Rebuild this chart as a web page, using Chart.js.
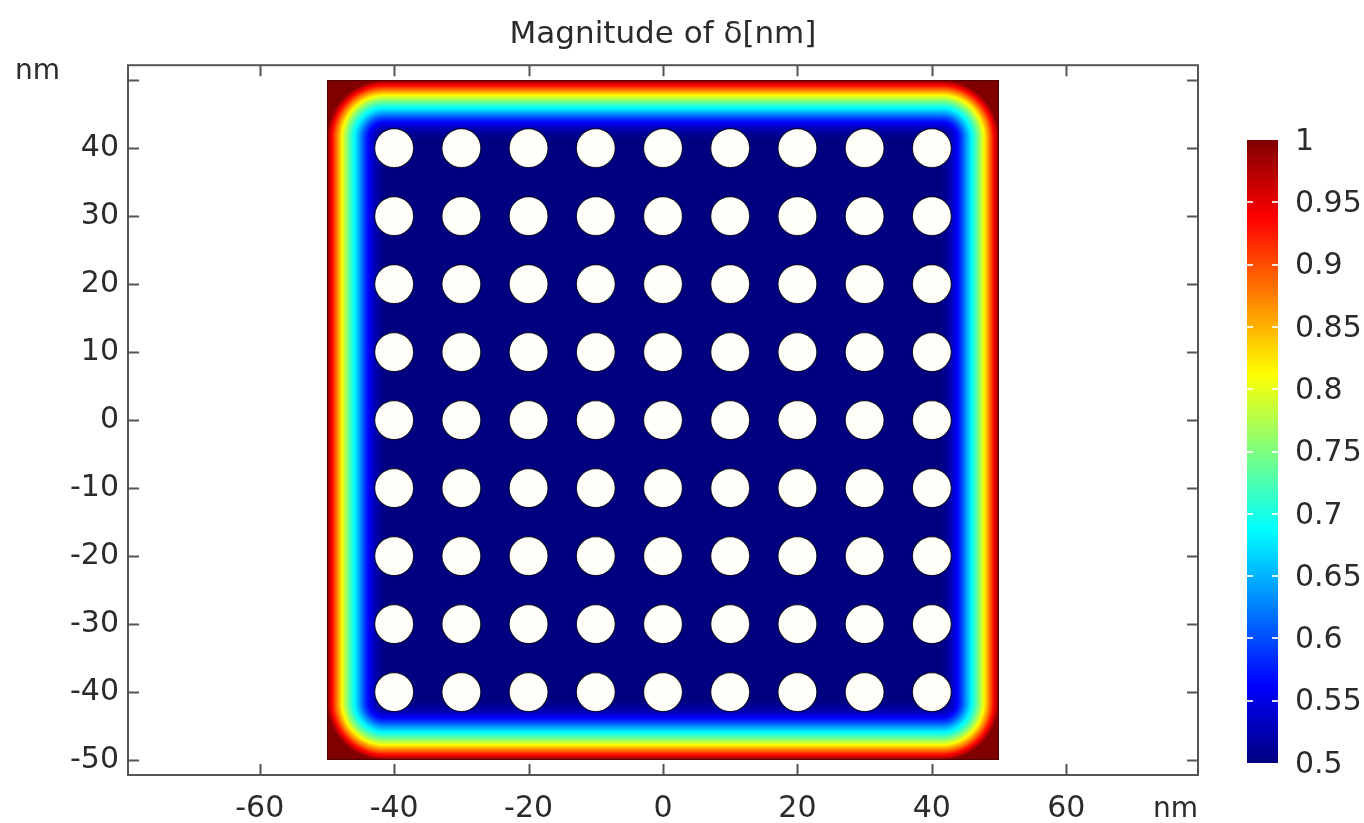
<!DOCTYPE html>
<html>
<head>
<meta charset="utf-8">
<script src="https://cdn.jsdelivr.net/npm/chart.js@4/dist/chart.umd.min.js"></script>
<style>
  body { margin: 0; background: #fff; }
  #chart { display: block; }
</style>
</head>
<body>
<canvas id="chart" width="1364" height="823"></canvas>
<script>
// Datos (nm)
const xRange = [-79.6, 79.6];
const yRange = [-52.2, 52.2];
const xTicks = [-60, -40, -20, 0, 20, 40, 60];
const yTicks = [-50, -40, -30, -20, -10, 0, 10, 20, 30, 40, 50];
const domain = [-50, 50];              // lado del cuadrado
const cornerRadius = 8.5;              // redondeo de las isolíneas en las esquinas
const holeX = [-40, -30, -20, -10, 0, 10, 20, 30, 40];
const holeY = [-40, -30, -20, -10, 0, 10, 20, 30, 40];
const holeRadius = 2.9;
// perfil del borde: distancia al borde (nm) -> magnitud
const edgeDist = [0, 0.6, 1.2, 1.8, 2.4, 3.0, 3.6, 4.2, 4.8, 5.4, 6.0, 6.6, 7.2, 8.0, 9.0];
const edgeValue = [1.0, 0.95, 0.9, 0.85, 0.80, 0.755, 0.715, 0.68, 0.645, 0.605, 0.572, 0.545, 0.525, 0.508, 0.5];
const cbarTicks = [0.5, 0.55, 0.6, 0.65, 0.7, 0.75, 0.8, 0.85, 0.9, 0.95, 1];
const cbarLabels = ['0.5', '0.55', '0.6', '0.65', '0.7', '0.75', '0.8', '0.85', '0.9', '0.95', '1'];
const cbarMin = 0.5, cbarMax = 1;

const FONT = 'DejaVu Sans';
const TEXT = '#2b2b2b';

// mapa de colores jet
const jetStops = [
  [0, [0, 0, 128]], [0.125, [0, 0, 255]], [0.375, [0, 255, 255]],
  [0.625, [255, 255, 0]], [0.875, [255, 0, 0]], [1, [128, 0, 0]]
];
function jet(t) {
  t = Math.max(0, Math.min(1, t));
  for (let i = 1; i < jetStops.length; i++) {
    if (t <= jetStops[i][0]) {
      const [t0, c0] = jetStops[i - 1], [t1, c1] = jetStops[i];
      const f = (t - t0) / (t1 - t0);
      return c0.map((c, k) => c + (c1[k] - c) * f);
    }
  }
  return jetStops[jetStops.length - 1][1];
}

function profile(d) {
  if (d <= edgeDist[0]) return edgeValue[0];
  for (let i = 1; i < edgeDist.length; i++) {
    if (d <= edgeDist[i]) {
      const f = (d - edgeDist[i - 1]) / (edgeDist[i] - edgeDist[i - 1]);
      return edgeValue[i - 1] + (edgeValue[i] - edgeValue[i - 1]) * f;
    }
  }
  return edgeValue[edgeValue.length - 1];
}
const norm = v => (v - cbarMin) / (cbarMax - cbarMin);

// distancia al borde con esquinas redondeadas
function edgeDistance(dx, dy) {
  const R = cornerRadius;
  if (dx < R && dy < R) return Math.max(0, R - Math.hypot(R - dx, R - dy));
  return Math.min(dx, dy);
}

const holes = [];
holeY.forEach(y => holeX.forEach(x => holes.push({ x, y })));

// Campo de superficie dibujado con las escalas del gráfico
const fieldPlugin = {
  id: 'field',
  beforeDatasetsDraw(chart) {
    const xs = chart.scales.x, ys = chart.scales.y;
    const l = Math.round(xs.getPixelForValue(domain[0]));
    const r = Math.round(xs.getPixelForValue(domain[1]));
    const t = Math.round(ys.getPixelForValue(domain[1]));
    const b = Math.round(ys.getPixelForValue(domain[0]));
    const w = r - l, h = b - t;
    const off = document.createElement('canvas');
    off.width = w; off.height = h;
    const octx = off.getContext('2d');
    const img = octx.createImageData(w, h);
    for (let j = 0; j < h; j++) {
      const yv = ys.getValueForPixel(t + j + 0.5);
      const dy = Math.min(yv - domain[0], domain[1] - yv);
      for (let i = 0; i < w; i++) {
        const xv = xs.getValueForPixel(l + i + 0.5);
        const dx = Math.min(xv - domain[0], domain[1] - xv);
        const c = jet(norm(profile(edgeDistance(dx, dy))));
        const k = (j * w + i) * 4;
        img.data[k] = c[0]; img.data[k + 1] = c[1]; img.data[k + 2] = c[2]; img.data[k + 3] = 255;
      }
    }
    octx.putImageData(img, 0, 0);
    const ctx = chart.ctx;
    ctx.save();
    ctx.drawImage(off, l, t);
    ctx.strokeStyle = 'rgba(70,0,0,0.8)';
    ctx.lineWidth = 1;
    ctx.strokeRect(l + 0.5, t + 0.5, w - 1, h - 1);
    ctx.restore();
  }
};

// Marco con marcas hacia dentro, unidades y barra de colores
const framePlugin = {
  id: 'frame',
  afterDraw(chart) {
    const ctx = chart.ctx;
    const a = chart.chartArea;
    const xs = chart.scales.x, ys = chart.scales.y;
    const tl = 11;
    ctx.save();
    ctx.strokeStyle = '#555';
    ctx.lineWidth = 2;
    ctx.strokeRect(a.left, a.top, a.right - a.left, a.bottom - a.top);
    ctx.beginPath();
    xs.ticks.forEach(tk => {
      const p = Math.round(xs.getPixelForValue(tk.value)) + 0.5;
      ctx.moveTo(p, a.bottom); ctx.lineTo(p, a.bottom - tl);
      ctx.moveTo(p, a.top); ctx.lineTo(p, a.top + tl);
    });
    ys.ticks.forEach(tk => {
      const p = Math.round(ys.getPixelForValue(tk.value)) + 0.5;
      ctx.moveTo(a.left, p); ctx.lineTo(a.left + tl, p);
      ctx.moveTo(a.right, p); ctx.lineTo(a.right - tl, p);
    });
    ctx.stroke();

    // unidades
    ctx.fillStyle = TEXT;
    ctx.font = '28px "' + FONT + '"';
    ctx.textBaseline = 'alphabetic';
    ctx.textAlign = 'left';
    ctx.fillText('nm', 15, 79);
    ctx.textAlign = 'right';
    ctx.fillText('nm', a.right, 817);

    // barra de colores
    const cbL = a.right + 49, cbW = 31, cbT = 140, cbB = 763;
    const cbY = v => cbB - (v - cbarMin) / (cbarMax - cbarMin) * (cbB - cbT);
    const grad = ctx.createLinearGradient(0, cbB, 0, cbT);
    jetStops.forEach(([s, c]) => grad.addColorStop(s, 'rgb(' + c.join(',') + ')'));
    ctx.fillStyle = grad;
    ctx.fillRect(cbL, cbT, cbW, cbB - cbT);
    ctx.strokeStyle = 'rgba(255,255,255,0.85)';
    ctx.lineWidth = 2;
    ctx.beginPath();
    cbarTicks.forEach(v => {
      if (v === cbarMin || v === cbarMax) return;
      const p = Math.round(cbY(v));
      ctx.moveTo(cbL, p); ctx.lineTo(cbL + 6, p);
      ctx.moveTo(cbL + cbW, p); ctx.lineTo(cbL + cbW - 6, p);
    });
    ctx.stroke();
    ctx.fillStyle = TEXT;
    ctx.font = '30px "' + FONT + '"';
    ctx.textAlign = 'left';
    ctx.textBaseline = 'middle';
    cbarTicks.forEach((v, i) => {
      ctx.fillText(cbarLabels[i], cbL + cbW + 17, cbY(v) + 2);
    });
    ctx.restore();
  }
};

new Chart(document.getElementById('chart'), {
  type: 'scatter',
  data: {
    datasets: [{
      data: holes,
      pointRadius: c => {
        const s = c.chart.scales.x;
        return Math.abs(s.getPixelForValue(holeRadius) - s.getPixelForValue(0));
      },
      pointBackgroundColor: '#fffef8',
      pointBorderColor: 'rgba(0,0,30,0.85)',
      pointBorderWidth: 1.2,
      pointHoverRadius: 0
    }]
  },
  options: {
    responsive: false,
    animation: false,
    devicePixelRatio: 1,
    events: [],
    layout: { padding: { left: 0, right: 166, top: 0, bottom: 0 } },
    plugins: {
      legend: { display: false },
      tooltip: { enabled: false },
      title: {
        display: true,
        text: 'Magnitude of δ[nm]',
        fullSize: false,
        color: TEXT,
        font: { family: FONT, size: 31, weight: 'normal' },
        padding: { top: 16, bottom: 12 }
      }
    },
    scales: {
      x: {
        type: 'linear',
        min: xRange[0], max: xRange[1],
        afterBuildTicks: s => { s.ticks = xTicks.map(v => ({ value: v })); },
        afterFit: s => { s.height = 48; },
        grid: { display: false },
        border: { display: false },
        ticks: { color: TEXT, font: { family: FONT, size: 30 }, padding: 8, maxRotation: 0 }
      },
      y: {
        type: 'linear',
        min: yRange[0], max: yRange[1],
        afterBuildTicks: s => { s.ticks = yTicks.map(v => ({ value: v })); },
        afterFit: s => { s.width = 128; },
        grid: { display: false },
        border: { display: false },
        ticks: {
          color: TEXT, font: { family: FONT, size: 30 }, padding: 1,
          callback: v => (v === yTicks[yTicks.length - 1] ? '' : v)
        }
      }
    }
  },
  plugins: [fieldPlugin, framePlugin]
});
</script>
</body>
</html>
